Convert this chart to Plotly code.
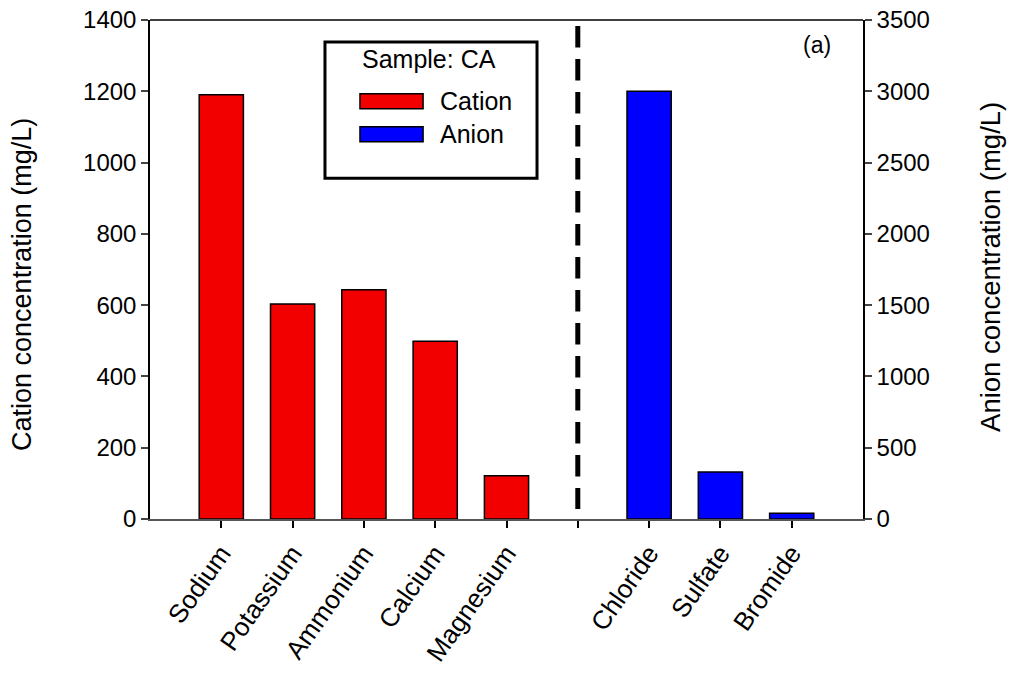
import plotly.graph_objects as go

cations = ["Sodium", "Potassium", "Ammonium", "Calcium", "Magnesium"]
cation_values = [1190, 603, 643, 499, 121]
anions = ["Chloride", "Sulfate", "Bromide"]
anion_values = [3000, 330, 40]
cation_pos = [1, 2, 3, 4, 5]
divider_pos = 6
anion_pos = [7, 8, 9]

tick_vals = cation_pos + [divider_pos] + anion_pos
tick_text = cations + [""] + anions

FONT = "Liberation Sans, Arial, sans-serif"
RED = "#f20000"
BLUE = "#0000ff"
FS = 24

fig = go.Figure()
fig.add_trace(go.Bar(x=cation_pos, y=cation_values, name="Cation", width=0.62,
                     marker=dict(color=RED, line=dict(color="black", width=1.5)),
                     yaxis="y", showlegend=False))
fig.add_trace(go.Bar(x=anion_pos, y=anion_values, name="Anion", width=0.62,
                     marker=dict(color=BLUE, line=dict(color="black", width=1.5)),
                     yaxis="y2", showlegend=False))

# divider and top frame
fig.add_shape(type="line", xref="x", yref="paper", x0=divider_pos, x1=divider_pos,
              y0=0.988, y1=0.02, line=dict(color="black", width=5, dash="21.5px,11.5px"))
fig.add_shape(type="line", xref="paper", yref="paper", x0=0, x1=1, y0=1, y1=1,
              line=dict(color="black", width=1.5))

# legend box
fig.add_shape(type="rect", xref="paper", yref="paper", x0=0.2454, x1=0.5428,
              y0=0.683, y1=0.956, line=dict(color="black", width=3), fillcolor="white")
fig.add_annotation(text="Sample: CA", xref="paper", yref="paper", x=0.392, y=0.921,
                   xanchor="center", yanchor="middle", showarrow=False,
                   font=dict(size=25, color="black", family=FONT))
legend_items = [("Cation", RED, 0.852, 0.822), ("Anion", BLUE, 0.786, 0.756)]
for label, col, ya, yb in legend_items:
    fig.add_shape(type="rect", xref="paper", yref="paper", x0=0.2945, x1=0.383,
                  y0=yb, y1=ya, line=dict(color="black", width=1.5), fillcolor=col)
    fig.add_annotation(text=label, xref="paper", yref="paper", x=0.4045, y=(ya + yb) / 2,
                       xanchor="left", yanchor="middle", showarrow=False,
                       font=dict(size=25, color="black", family=FONT))

fig.add_annotation(text="(a)", xref="paper", yref="paper", x=0.935, y=0.95,
                   xanchor="center", yanchor="middle", showarrow=False,
                   font=dict(size=23, color="black", family=FONT))

# axis titles
fig.add_annotation(text="Cation concentration (mg/L)", xref="paper", yref="paper",
                   x=-0.1795, y=0.469, xanchor="center", yanchor="middle", textangle=-90,
                   showarrow=False, font=dict(size=27, color="black", family=FONT))
fig.add_annotation(text="Anion concentration (mg/L)", xref="paper", yref="paper",
                   x=1.178, y=0.505, xanchor="center", yanchor="middle", textangle=-90,
                   showarrow=False, font=dict(size=27.5, color="black", family=FONT))

fig.update_layout(
    width=1011, height=679,
    margin=dict(l=150, r=148, t=20, b=160),
    paper_bgcolor="white", plot_bgcolor="white",
    font=dict(family=FONT, size=FS, color="black"),
    showlegend=False,
    xaxis=dict(range=[0, 10.0], tickmode="array", tickvals=tick_vals, ticktext=tick_text,
               tickangle=-55, ticks="outside", ticklen=7, tickwidth=1.5, tickcolor="black",
               showline=True, linecolor="#555555", linewidth=1.5, showgrid=False,
               zeroline=False, tickfont=dict(size=26), automargin=False),
    yaxis=dict(range=[0, 1400], dtick=200, ticks="outside", ticklen=7, tickwidth=1.5,
               showline=True, linecolor="black", linewidth=1.5, showgrid=False,
               zeroline=False, tickfont=dict(size=FS), automargin=False),
    yaxis2=dict(range=[0, 3500], dtick=500, overlaying="y", side="right", ticks="outside",
                ticklen=7, tickwidth=1.5, showline=True, linecolor="black", linewidth=1.5,
                showgrid=False, zeroline=False, tickfont=dict(size=FS), automargin=False),
)

fig.write_html("out.html")
